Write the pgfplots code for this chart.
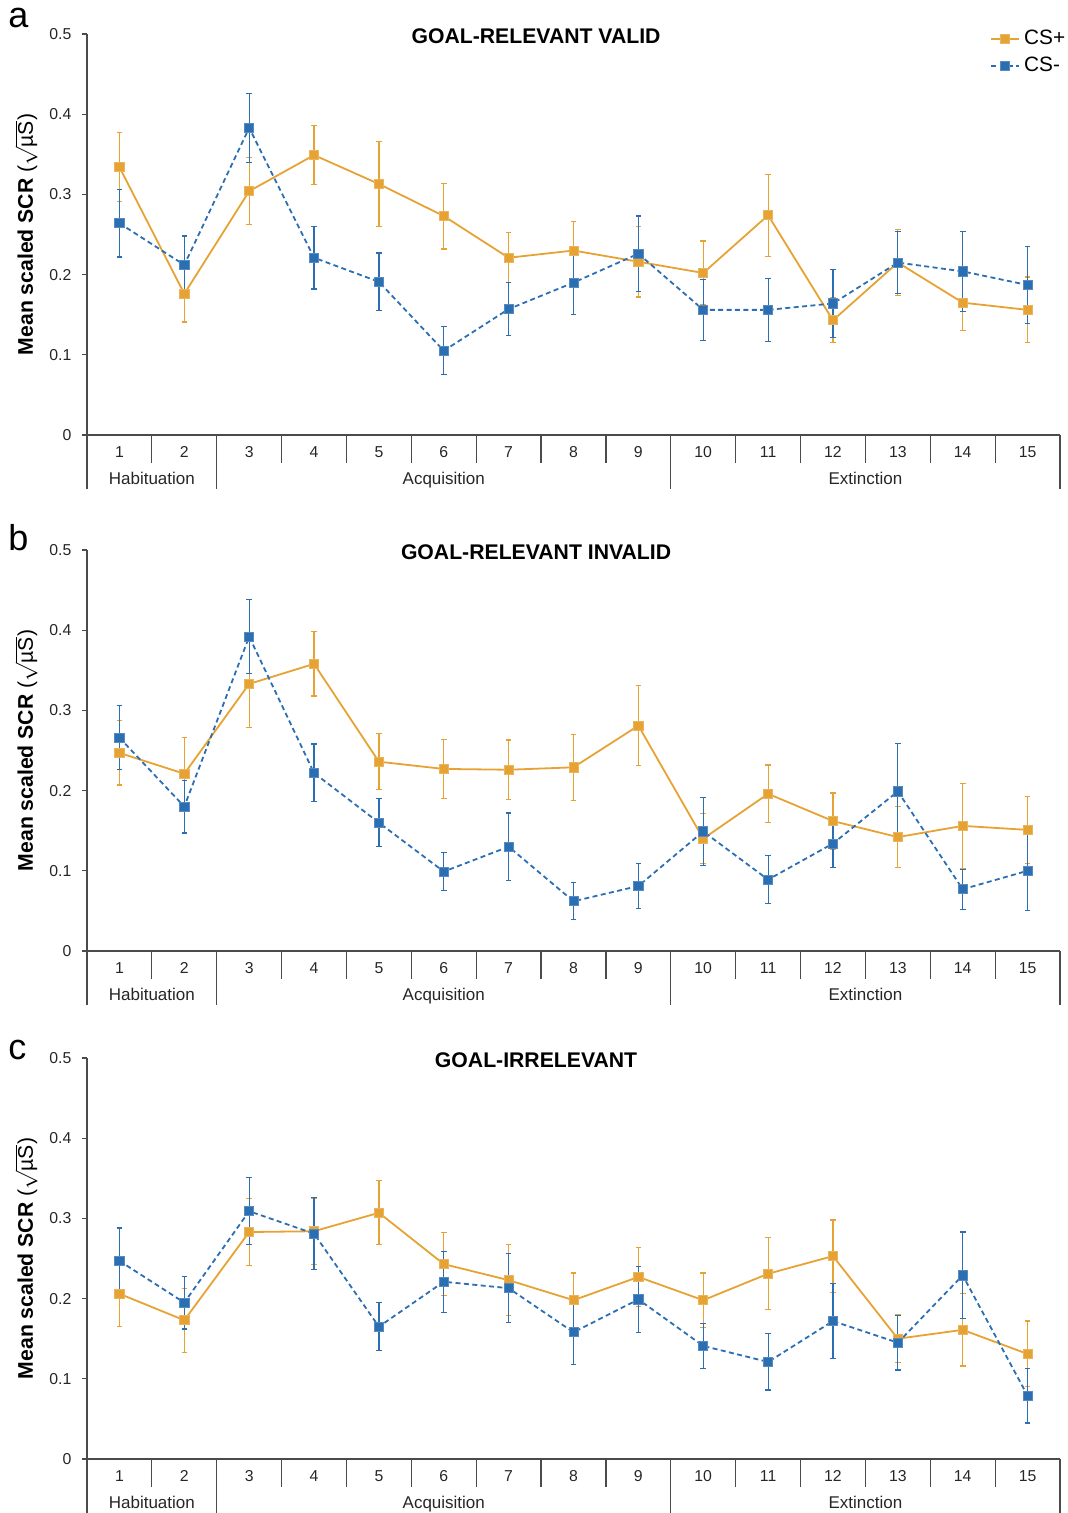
\documentclass[border=0pt]{standalone}
\usepackage{pgfplots}
\usepackage{pgfplotstable}
\pgfplotsset{compat=1.18}
\usepackage{fontspec}
\setmainfont{Liberation Sans}
\definecolor{csp}{RGB}{230,163,52}
\definecolor{csm}{RGB}{43,110,178}
\definecolor{axc}{RGB}{75,75,75}

% x: trial; p/pe: CS+ mean and error; m/me: CS- mean and error
\pgfplotstableread{
x p pe m me
1 0.334 0.043 0.264 0.042
2 0.176 0.035 0.212 0.036
3 0.304 0.042 0.383 0.043
4 0.349 0.037 0.221 0.039
5 0.313 0.053 0.191 0.036
6 0.273 0.041 0.105 0.030
7 0.221 0.031 0.157 0.033
8 0.230 0.036 0.190 0.040
9 0.216 0.044 0.226 0.047
10 0.202 0.040 0.156 0.038
11 0.274 0.051 0.156 0.039
12 0.143 0.028 0.164 0.042
13 0.215 0.041 0.215 0.039
14 0.165 0.035 0.204 0.050
15 0.156 0.041 0.187 0.048
}\dataA

\pgfplotstableread{
x p pe m me
1 0.247 0.040 0.266 0.040
2 0.221 0.045 0.180 0.033
3 0.333 0.054 0.392 0.046
4 0.358 0.040 0.222 0.036
5 0.236 0.035 0.160 0.030
6 0.227 0.037 0.099 0.024
7 0.226 0.037 0.130 0.042
8 0.229 0.041 0.062 0.023
9 0.281 0.050 0.081 0.028
10 0.140 0.031 0.149 0.042
11 0.196 0.036 0.089 0.030
12 0.162 0.035 0.134 0.030
13 0.142 0.038 0.199 0.060
14 0.156 0.053 0.077 0.025
15 0.151 0.042 0.100 0.050
}\dataB

\pgfplotstableread{
x p pe m me
1 0.206 0.041 0.247 0.041
2 0.173 0.040 0.195 0.033
3 0.283 0.042 0.309 0.042
4 0.284 0.041 0.281 0.045
5 0.307 0.040 0.165 0.030
6 0.243 0.039 0.221 0.038
7 0.223 0.044 0.213 0.043
8 0.198 0.034 0.158 0.040
9 0.227 0.037 0.199 0.041
10 0.198 0.034 0.141 0.028
11 0.231 0.045 0.121 0.035
12 0.253 0.045 0.172 0.047
13 0.150 0.030 0.145 0.034
14 0.161 0.045 0.229 0.054
15 0.131 0.041 0.079 0.034
}\dataC

\newcommand{\ticksize}{\fontsize{7.9}{9}\selectfont}
\newcommand{\groupsize}{\fontsize{8.5}{10}\selectfont}
\newcommand{\boldsize}{\bfseries\fontsize{10.6}{12}\selectfont}

\pgfplotsset{
  panel/.style={
    width=486.5pt, height=200.5pt, scale only axis,
    xmin=0.5, xmax=15.5, ymin=0, ymax=0.5,
    axis x line*=bottom, axis y line*=left,
    axis line style={axc, line width=0.6pt, -},
    tick align=outside,
    major tick length=2.5pt,
    minor tick length=14pt,
    tick style={axc, line width=0.6pt},
    major x tick style={draw=none},
    xtick={1,2,3,4,5,6,7,8,9,10,11,12,13,14,15},
    xticklabels={1,2,3,4,5,6,7,8,9,10,11,12,13,14,15},
    minor xtick={1.5,3.5,4.5,5.5,6.5,7.5,8.5,10.5,11.5,12.5,13.5,14.5},
    ytick={0,0.1,0.2,0.3,0.4,0.5},
    yticklabels={0,0.1,0.2,0.3,0.4,0.5},
    tick label style={font=\ticksize, text=black!85},
    xticklabel style={anchor=center, yshift=-6pt},
    yticklabel style={anchor=east, xshift=-1.8pt},
    clip=false,
    title style={at={(0.4615,1)}, anchor=center, yshift=-7pt, font=\boldsize},
    ylabel={Mean scaled SCR {\mdseries(}$\sqrt{\hbox{\mdseries µS}}${\mdseries)}},
    ylabel style={at={(axis description cs:-0.0625,0.5)}, anchor=center, inner sep=0pt, font=\boldsize},
  },
  plusplot/.style={csp, solid, line width=0.9pt, mark=square*, mark size=2.3pt,
    mark options={solid, fill=csp, draw=csp!80!white, line width=0.4pt},
    error bars/.cd, y dir=both, y explicit,
    error bar style={solid, line width=0.6pt, csp},
    error mark options={rotate=90, mark size=1.4pt, line width=0.6pt, csp}},
  minusplot/.style={csm, line width=0.9pt, dash pattern=on 2.5pt off 1.7pt, mark=square*, mark size=2.3pt,
    mark options={solid, fill=csm, draw=csm!80!white, line width=0.4pt},
    error bars/.cd, y dir=both, y explicit,
    error bar style={solid, line width=0.6pt, csm},
    error mark options={rotate=90, mark size=1.4pt, line width=0.6pt, csm}},
}

\newcommand{\groups}{%
  \draw[axc, line width=0.6pt] (axis cs:0.5,0) -- ++(0pt,-27pt);
  \draw[axc, line width=0.6pt] (axis cs:2.5,0) -- ++(0pt,-27pt);
  \draw[axc, line width=0.6pt] (axis cs:9.5,0) -- ++(0pt,-27pt);
  \draw[axc, line width=0.6pt] (axis cs:15.5,0) -- ++(0pt,-27pt);
  \node[font=\groupsize, text=black!85, anchor=base] at ([yshift=-25pt]axis cs:1.5,0) {Habituation};
  \node[font=\groupsize, text=black!85, anchor=base] at ([yshift=-25pt]axis cs:6,0) {Acquisition};
  \node[font=\groupsize, text=black!85, anchor=base] at ([yshift=-25pt]axis cs:12.5,0) {Extinction};
}

\begin{document}
\begin{tikzpicture}[x=1pt,y=1pt]

\begin{axis}[panel, at={(43.5pt,539pt)}, anchor=south west,
  title={GOAL-RELEVANT VALID},
  legend style={draw=none, fill=none, at={(rel axis cs:0.928,1.02)}, anchor=north west,
    font=\fontsize{10.4}{12}\selectfont, inner sep=0pt, row sep=0.5pt},
  legend cell align=left,
  legend image code/.code={\draw[mark repeat=2, mark phase=2, #1] plot coordinates {(0pt,0pt) (7pt,0pt) (14pt,0pt)};},
]
\addplot[plusplot] table[x=x, y=p, y error=pe] {\dataA};
\addlegendentry{CS+}
\addplot[minusplot] table[x=x, y=m, y error=me] {\dataA};
\addlegendentry{CS-}
\groups
\end{axis}

\begin{axis}[panel, at={(43.5pt,281pt)}, anchor=south west,
  title={GOAL-RELEVANT INVALID}]
\addplot[plusplot] table[x=x, y=p, y error=pe] {\dataB};
\addplot[minusplot] table[x=x, y=m, y error=me] {\dataB};
\groups
\end{axis}

\begin{axis}[panel, at={(43.5pt,27pt)}, anchor=south west,
  title={GOAL-IRRELEVANT}]
\addplot[plusplot] table[x=x, y=p, y error=pe] {\dataC};
\addplot[minusplot] table[x=x, y=m, y error=me] {\dataC};
\groups
\end{axis}

\node[anchor=base west, inner sep=0pt, font=\fontsize{18}{20}\selectfont] at (4pt,742.75pt) {a};
\node[anchor=base west, inner sep=0pt, font=\fontsize{18}{20}\selectfont] at (4pt,481pt) {b};
\node[anchor=base west, inner sep=0pt, font=\fontsize{18}{20}\selectfont] at (4pt,226.75pt) {c};

\pgfresetboundingbox
\path[use as bounding box] (0pt,0pt) rectangle (534pt,756.5pt);
\end{tikzpicture}
\end{document}
